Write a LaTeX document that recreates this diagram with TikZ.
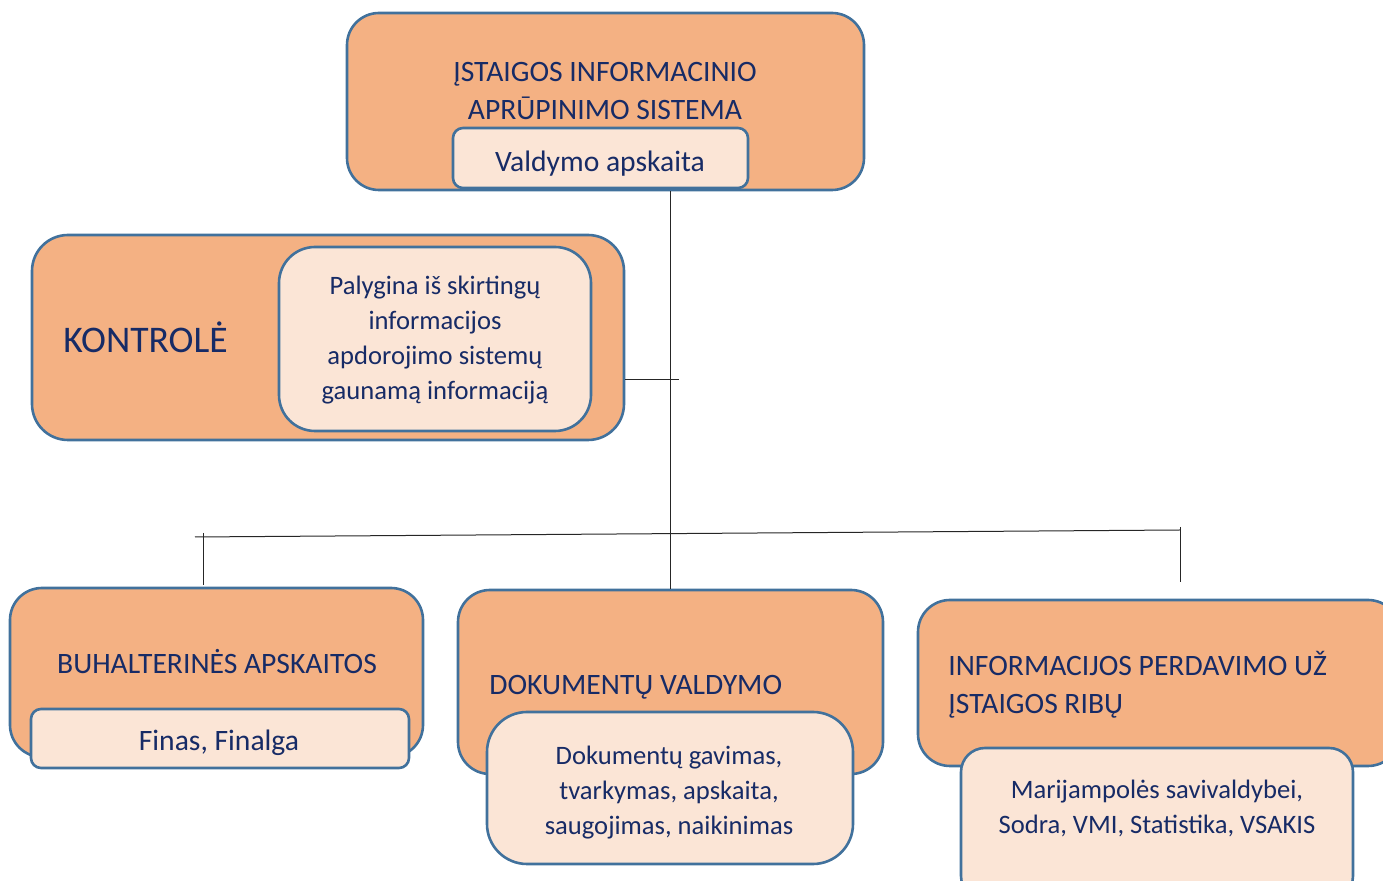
\documentclass[tikz,border=0pt]{standalone}
\usepackage{fontspec}
\setmainfont{Carlito}
\usetikzlibrary{positioning}

\definecolor{boxorange}{HTML}{F4B183}
\definecolor{boxlight}{HTML}{FBE5D6}
\definecolor{boxedge}{HTML}{41719C}
\definecolor{textnavy}{HTML}{172B66}

\tikzset{
  outerbox/.style={draw=boxedge, line width=1.3pt, fill=boxorange, rounded corners=16pt, inner sep=0pt},
  innerbox/.style={draw=boxedge, line width=1.3pt, fill=boxlight, inner sep=0pt},
  boxtext/.style={text=textnavy, inner sep=0pt},
  bigtext/.style={boxtext, font=\fontsize{14.8}{19}\selectfont},
  smalltext/.style={boxtext, font=\fontsize{13.3}{17.5}\selectfont},
  link/.style={draw=black!85, line width=0.5pt}
}

\begin{document}
\begin{tikzpicture}[x=0.5pt,y=-0.5pt]
    \useasboundingbox (0,0) rectangle (1383,881);
    \clip (0,0) rectangle (1383,881);

    % top system
    \node[outerbox, minimum width=258.5pt, minimum height=88.5pt] (top) at (605.5,101.5) {};
    \node[innerbox, rounded corners=5pt, minimum width=147.5pt, minimum height=30pt] (valdbox) at (600.5,158) {};
    \node[bigtext, align=center] (toptext) at (605,91) {ĮSTAIGOS INFORMACINIO\\APRŪPINIMO SISTEMA};
    \node[bigtext] (valdtext) at (600,164) {Valdymo apskaita};

    % control
    \node[outerbox, rounded corners=18pt, minimum width=296pt, minimum height=102.5pt] (kontr) at (328,337.5) {};
    \node[innerbox, rounded corners=18pt, minimum width=156pt, minimum height=92pt] (palbox) at (435,339) {};
    \node[boxtext, font=\fontsize{18.8}{22}\selectfont, anchor=west] (kontrtext) at (63,337) {KONTROLĖ};
    \node[smalltext, align=center] (paltext) at (435,340) {Palygina iš skirtingų\\informacijos\\apdorojimo sistemų\\gaunamą informaciją};

    % accounting
    \node[outerbox, minimum width=206.5pt, minimum height=84.5pt] (buh) at (216.5,672.5) {};
    \node[innerbox, rounded corners=5pt, minimum width=189pt, minimum height=29.5pt] (finbox) at (220,738.5) {};
    \node[bigtext] (buhtext) at (217,662) {BUHALTERINĖS APSKAITOS};
    \node[bigtext] (fintext) at (219,743) {Finas, Finalga};

    % documents
    \node[outerbox, minimum width=212.5pt, minimum height=92pt] (dok) at (670.5,682) {};
    \node[innerbox, rounded corners=20pt, minimum width=183pt, minimum height=76pt] (dokbox) at (670,788) {};
    \node[bigtext, anchor=west] (doktext) at (489,687) {DOKUMENTŲ VALDYMO};
    \node[smalltext, align=center] (dokintext) at (669,793) {Dokumentų gavimas,\\tvarkymas, apskaita,\\saugojimas, naikinimas};

    % transfer
    \node[outerbox, minimum width=241pt, minimum height=83pt] (info) at (1159,683) {};
    \node[innerbox, rounded corners=12pt, minimum width=196pt, minimum height=76pt] (infobox) at (1157,824) {};
    \node[bigtext, align=left, anchor=west] (infotext) at (948,685) {INFORMACIJOS PERDAVIMO UŽ\\ĮSTAIGOS RIBŲ};
    \node[smalltext, align=center] (infointext) at (1157,808) {Marijampolės savivaldybei,\\Sodra, VMI, Statistika, VSAKIS};

    % connectors
    \coordinate (barL) at (195,537);
    \coordinate (barR) at (1180,530);
    \coordinate (buhdrop) at (203,585);
    \coordinate (infodrop) at (1180,582);
    \coordinate (stub) at (679,380);

    \draw[link] (top.south -| dok.north) -- (dok.north);
    \draw[link] (barL) -- (barR);
    \draw[link] (buhdrop |- 0,533) -- (buhdrop);
    \draw[link] (infodrop |- 0,527) -- (infodrop);
    \draw[link] (kontr.east |- stub) -- (stub);
\end{tikzpicture}
\end{document}
